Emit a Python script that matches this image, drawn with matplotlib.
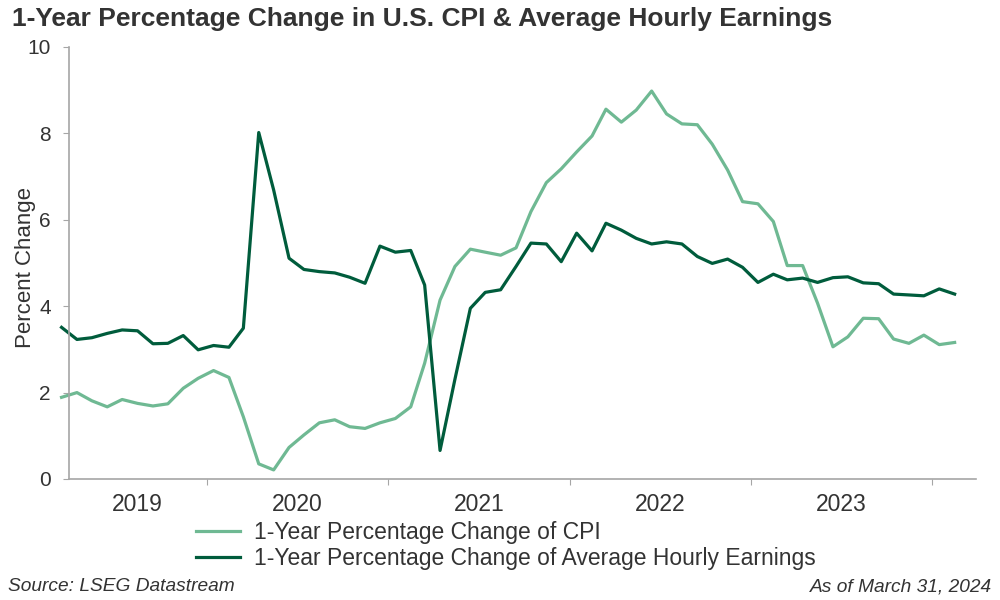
import numpy as np
import pandas as pd
import matplotlib
matplotlib.use("Agg")
import matplotlib.pyplot as plt
import matplotlib.dates as mdates

plt.rcParams['font.family'] = ['Liberation Sans', 'DejaVu Sans']

# monthly, Mar 2019 .. Feb 2024
months = pd.date_range("2019-03-01", periods=60, freq="MS") + pd.Timedelta(days=14)

cpi = [1.89, 2.00, 1.81, 1.67, 1.84, 1.75, 1.69, 1.74, 2.10, 2.33,
       2.51, 2.35, 1.44, 0.35, 0.21, 0.73, 1.02, 1.30, 1.37, 1.21,
       1.17, 1.30, 1.40, 1.67, 2.68, 4.14, 4.92, 5.32, 5.25, 5.18,
       5.35, 6.19, 6.86, 7.18, 7.57, 7.94, 8.56, 8.26, 8.54, 8.98,
       8.45, 8.22, 8.20, 7.75, 7.15, 6.42, 6.37, 5.96, 4.94, 4.94,
       4.07, 3.06, 3.29, 3.72, 3.71, 3.24, 3.14, 3.33, 3.11, 3.16]

ahe = [3.51, 3.23, 3.27, 3.37, 3.45, 3.43, 3.13, 3.14, 3.32, 2.99,
       3.09, 3.05, 3.49, 8.02, 6.69, 5.11, 4.85, 4.80, 4.77, 4.67,
       4.53, 5.39, 5.25, 5.29, 4.49, 0.66, 2.31, 3.95, 4.32, 4.38,
       4.92, 5.46, 5.44, 5.03, 5.69, 5.28, 5.92, 5.76, 5.57, 5.44,
       5.49, 5.44, 5.15, 4.99, 5.09, 4.90, 4.55, 4.74, 4.61, 4.65,
       4.55, 4.66, 4.68, 4.54, 4.52, 4.28, 4.26, 4.24, 4.40, 4.28]

years = [2019, 2020, 2021, 2022, 2023]

light = "#6fb993"
dark = "#005c3c"
gray_txt = "#333333"
axis_gray = "#a6a6a6"

fig = plt.figure(figsize=(10, 6), dpi=100)
ax = fig.add_axes([0.069, 0.2017, 0.907, 0.72])

ax.plot(months, cpi, color=light, lw=2.3, clip_on=False,
        label="1-Year Percentage Change of CPI")
ax.plot(months, ahe, color=dark, lw=2.3, clip_on=False,
        label="1-Year Percentage Change of Average Hourly Earnings")

x0 = pd.Timestamp("2019-03-30")
x1 = pd.Timestamp("2024-03-29")
ax.set_xlim(x0, x1)
ax.set_ylim(0, 10)
ax.set_yticks([0, 2, 4, 6, 8, 10])

# year boundary ticks without labels, labels in middle of visible part
bounds = [pd.Timestamp(f"{y}-01-01") for y in range(2020, 2025)]
ax.set_xticks(bounds)
ax.set_xticklabels([])
edges = [x0] + bounds[:-1] + [x1]
centers = []
for i, y in enumerate(years):
    a = mdates.date2num(edges[i])
    b = mdates.date2num(edges[i + 1]) if i + 1 < len(edges) - 1 else mdates.date2num(bounds[i])
    centers.append((a + b) / 2)
ax.set_xticks(centers, minor=True)
ax.set_xticklabels([str(y) for y in years], minor=True)
ax.tick_params(axis="x", which="minor", length=0, pad=10, labelsize=16.5, labelcolor=gray_txt)
ax.tick_params(axis="x", which="major", length=4, color=axis_gray, direction="out")
ax.tick_params(axis="y", length=4, color=axis_gray, labelsize=15, labelcolor=gray_txt, pad=9)

for s in ["top", "right"]:
    ax.spines[s].set_visible(False)
for s in ["left", "bottom"]:
    ax.spines[s].set_color(axis_gray)
    ax.spines[s].set_linewidth(1.2)

ax.set_ylabel("Percent Change", fontsize=16, color=gray_txt)
ax.yaxis.set_label_coords(-0.036, 0.49)

fig.text(0.012, 0.968, "1-Year Percentage Change in U.S. CPI & Average Hourly Earnings",
         fontsize=19, fontweight="bold", color=gray_txt, ha="left", va="center")

leg = fig.legend(loc="upper left", bbox_to_anchor=(0.185, 0.151), frameon=False,
                 fontsize=16.5, handlelength=1.9, handletextpad=0.6, labelspacing=0.12,
                 borderpad=0)
for t in leg.get_texts():
    t.set_color(gray_txt)

fig.text(0.008, 0.022, "Source: LSEG Datastream", fontsize=13.8, style="italic",
         color=gray_txt, ha="left", va="center")
fig.text(0.992, 0.022, "As of March 31, 2024", fontsize=13.8, style="italic",
         color=gray_txt, ha="right", va="center")

fig.savefig("out.png", dpi=100)
